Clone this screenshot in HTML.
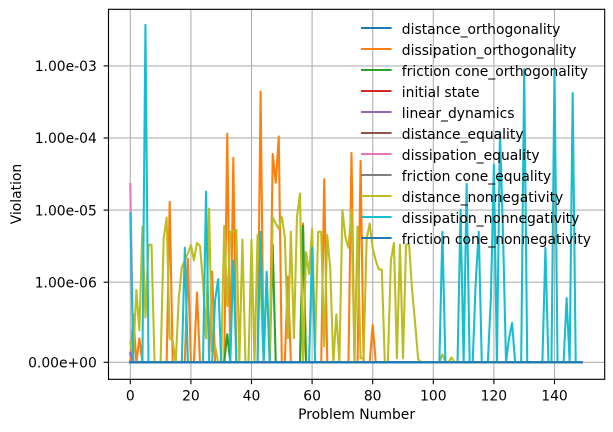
<!DOCTYPE html>
<html lang="en">
<head>
<meta charset="utf-8">
<title>Violation per problem</title>
<style>
html,body{margin:0;padding:0;background:#fff;width:613px;height:432px;overflow:hidden}
svg{display:block}
text{font-family:"DejaVu Sans","Liberation Sans",sans-serif;font-size:13.89px;fill:#000}
</style>
</head>
<body>
<svg id="chart" xmlns="http://www.w3.org/2000/svg" width="613" height="432" viewBox="0 0 613 432">
<defs><clipPath id="plot-clip"><rect x="108.5" y="9.3" width="496.2" height="370"/></clipPath></defs>
<g id="grid"></g>
<g id="series" clip-path="url(#plot-clip)"></g>
<g id="axes"></g>
<g id="legend"></g>
<text x="356.6" y="419" text-anchor="middle">Problem Number</text>
<text transform="translate(21,194) rotate(-90)" text-anchor="middle">Violation</text>
</svg>
<script>
const xTicks = [0, 20, 40, 60, 80, 100, 120, 140];
const yTicks = [0, 1e-6, 1e-5, 1e-4, 1e-3];
const yTickLabels = ["0.00e+00", "1.00e-06", "1.00e-05", "1.00e-04", "1.00e-03"];

const seriesNames = ["distance_orthogonality", "dissipation_orthogonality", "friction cone_orthogonality", "initial state", "linear_dynamics", "distance_equality", "dissipation_equality", "friction cone_equality", "distance_nonnegativity", "dissipation_nonnegativity", "friction cone_nonnegativity"];
const seriesColors = ["#1f77b4", "#ff7f0e", "#2ca02c", "#d62728", "#9467bd", "#8c564b", "#e377c2", "#7f7f7f", "#bcbd22", "#17becf", "#1f77b4"];

const distanceOrthogonality = [1e-7];
const dissipationOrthogonality = [
0,6e-7,0,3e-7,0,0,0,0,0,0,
0,0,0,1.3e-5,0,0,0,0,0,2.1e-6,
0,0,8.7e-7,0,0,0,0,1.4e-6,0,0,
0,0,1.15e-4,0,5.3e-5,0,0,0,0,0,
0,0,0,4.4e-4,0,0,0,6e-5,2.4e-5,1.05e-4,
0,0,1.2e-6,0,0,0,0,6.5e-6,0,0,
0,0,0,0,2.7e-5,0,0,0,0,0,
0,0,0,6.2e-5,0,0,4.8e-5,0,0,0,
4.7e-7];
const frictionConeOrthogonality = [
0,0,0,0,0,0,0,0,0,0,
0,0,0,0,0,0,0,0,0,0,
0,0,0,0,0,0,0,0,0,0,
0,0,3.5e-7,0,0,0,0,0,0,0,
0,0,0,0,0,0,0,3.3e-6,0,0,
0,0,0,0,0,0,0,6e-6];
const initialState = [0];
const linearDynamics = [1.2e-7];
const distanceEquality = [0];
const dissipationEquality = [2.3e-5];
const frictionConeEquality = [0];
const distanceNonnegativity = [
2.4e-7,1e-7,9e-7,4e-7,5.9e-6,5.6e-7,3.3e-6,3.3e-6,0,0,
0,4e-6,7.9e-6,3e-7,2.7e-7,0,8e-7,1.6e-6,2e-6,2.5e-6,
3.3e-6,2e-6,3.5e-6,3.2e-6,1e-6,3e-7,1.05e-5,1.3e-7,2e-7,0,
0,6e-6,7e-7,5e-6,5e-6,5.3e-6,0,3.9e-6,0,0,
3.9e-6,0,4.5e-6,1e-6,0,1.2e-6,0,8e-6,6.5e-6,5.5e-6,
8e-6,4.3e-6,3e-7,5e-6,3e-7,8e-6,1.7e-5,0,2.6e-6,1.3e-6,
5.5e-6,2e-7,5e-6,5e-6,2e-7,4.5e-6,1.5e-6,0,6e-7,0,
1e-5,4.2e-6,3e-6,1e-5,0,5.9e-6,5e-8,5e-8,4e-6,6.5e-6,
3e-6,2e-6,1.5e-6,1.5e-6,0,0,2e-6,3.5e-6,5e-8,3.3e-6,
5e-8,3.3e-6,3.4e-6,9e-7,4.9e-7,4e-8,0,0,0,0,
0,0,0,1e-7,0,0,6e-8];
const dissipationNonnegativity = [
9e-6,0,0,0,0,3.7e-3,0,0,0,0,
0,0,0,0,0,0,0,0,3e-6,0,
0,0,0,0,0,1.8e-5,0,0,7.8e-7,1.1e-6,
0,0,0,0,2e-6,0,0,0,0,0,
0,0,0,5e-6,0,1.4e-6,0,0,0,0,
0,0,0,0,0,0,0,0,0,0,
3e-6,0,0,0,0,0,0,0,0,0,
0,0,0,0,0,0,0,0,0,0,
0,0,0,0,0,0,0,0,0,0,
0,0,0,0,0,0,0,0,0,0,
0,0,0,5e-6,0,0,0,0,0,1e-5,
0,2.3e-5,0,0,1e-6,5e-6,0,0,0,8e-7,
4.3e-5,0,1.2e-4,4.8e-6,0,3e-7,4.9e-7,0,0,0,
9e-4,0,0,0,0,0,0,3e-6,0,0,
9e-4,0,0,0,8e-7,0,4.2e-4];
const frictionConeNonnegativity = [0];

const problemCount = 150;
const seriesValues = [distanceOrthogonality, dissipationOrthogonality, frictionConeOrthogonality, initialState, linearDynamics, distanceEquality, dissipationEquality, frictionConeEquality, distanceNonnegativity, dissipationNonnegativity, frictionConeNonnegativity];

const SVG_NS = "http://www.w3.org/2000/svg";
const AXIS = {left: 108.5, right: 604.7, top: 9.3, bottom: 379.3};
const linthresh = 1e-6;
const linscale = 1 / 0.9;
function xScale(v) { return 130.3 + 3.03 * v; }
function yScale(v) {
  const t = v <= linthresh ? linscale * v / linthresh : linscale + Math.log10(v / linthresh);
  return 362.3 - 72.1 * t;
}
function make(tag, attrs, parent) {
  const el = document.createElementNS(SVG_NS, tag);
  for (const k in attrs) el.setAttribute(k, attrs[k]);
  parent.appendChild(el);
  return el;
}
const gridG = document.getElementById("grid");
const seriesG = document.getElementById("series");
const axesG = document.getElementById("axes");
const legendG = document.getElementById("legend");

xTicks.forEach(function (t) {
  const x = xScale(t);
  const g = make("line", {x1: x, x2: x, y1: AXIS.top, y2: AXIS.bottom, stroke: "#b0b0b0", "stroke-width": 1.11}, gridG);
  
  
  const tick = make("line", {x1: x, x2: x, y1: AXIS.bottom, y2: AXIS.bottom + 4.9, stroke: "#000", "stroke-width": 1.11}, axesG);
  
  
  const label = make("text", {x: x, y: 400.3, "text-anchor": "middle"}, axesG);
  
  
  label.textContent = String(t);
});
yTicks.forEach(function (t, i) {
  const y = yScale(t);
  const g = make("line", {x1: AXIS.left, x2: AXIS.right, y1: y, y2: y, stroke: "#b0b0b0", "stroke-width": 1.11}, gridG);
  
  
  const tick = make("line", {x1: AXIS.left - 4.9, x2: AXIS.left, y1: y, y2: y, stroke: "#000", "stroke-width": 1.11}, axesG);
  
  
  const label = make("text", {x: 96.8, y: y + 5.2, "text-anchor": "end"}, axesG);
  
  
  label.textContent = yTickLabels[i];
});

seriesValues.forEach(function (vals, s) {
  const pts = [];
  for (let i = 0; i < problemCount; i++) {
    const v = i < vals.length ? vals[i] : 0;
    pts.push(xScale(i).toFixed(2) + "," + yScale(v).toFixed(2));
  }
  const line = make("polyline", {points: pts.join(" "), fill: "none", stroke: seriesColors[s], "stroke-width": 2.08, "stroke-linejoin": "round", "stroke-linecap": "square"}, seriesG);
  
  
});

[AXIS.left, AXIS.right].forEach(function (x) {
  const sp = make("line", {x1: x, x2: x, y1: AXIS.top - 0.55, y2: AXIS.bottom + 0.55, stroke: "#000", "stroke-width": 1.11}, axesG);
  
  
});
[AXIS.top, AXIS.bottom].forEach(function (y) {
  const sp = make("line", {x1: AXIS.left, x2: AXIS.right, y1: y, y2: y, stroke: "#000", "stroke-width": 1.11}, axesG);
  
  
});

seriesNames.forEach(function (name, i) {
  const y = 28 + 21 * i;
  const h = make("line", {x1: 362, x2: 390.5, y1: y, y2: y, stroke: seriesColors[i], "stroke-width": 2.08, "stroke-linecap": "square"}, legendG);
  
  
  const t = make("text", {x: 401.8, y: y + 6}, legendG);
  
  
  t.textContent = name;
});
</script>
</body>
</html>
